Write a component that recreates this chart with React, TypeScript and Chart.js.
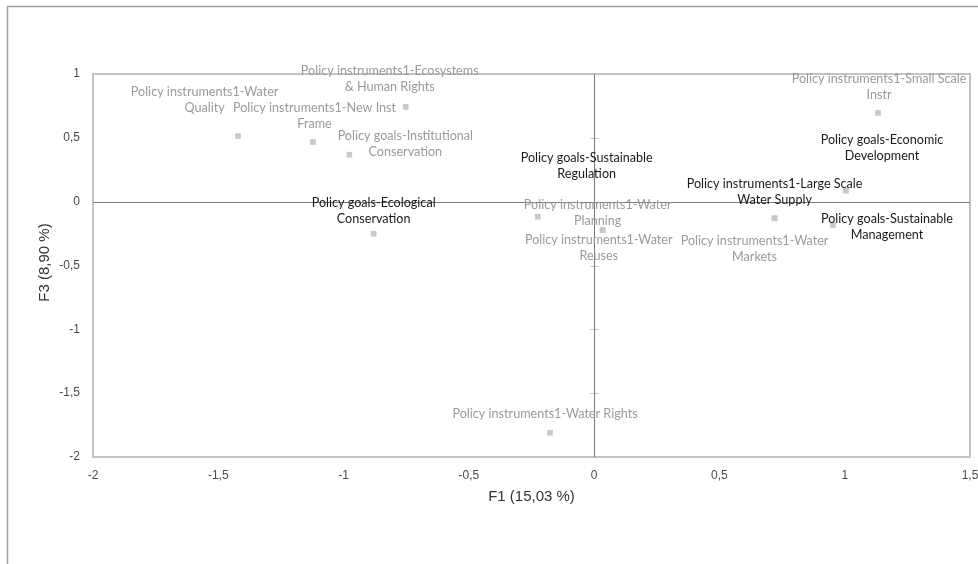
import React, { useEffect, useRef } from "react";
import { Chart, registerables } from "chart.js";
Chart.register(...registerables);

// ---- data ----
const itemLabels: string[][] = [
  ["Policy instruments1-Water", "Quality"],
  ["Policy instruments1-New Inst", "Frame"],
  ["Policy instruments1-Ecosystems", "& Human Rights"],
  ["Policy goals-Institutional", "Conservation"],
  ["Policy goals-Ecological", "Conservation"],
  ["Policy goals-Sustainable", "Regulation"],
  ["Policy instruments1-Water", "Planning"],
  ["Policy instruments1-Water", "Reuses"],
  ["Policy instruments1-Large Scale", "Water Supply"],
  ["Policy instruments1-Water", "Markets"],
  ["Policy instruments1-Small Scale", "Instr"],
  ["Policy goals-Economic", "Development"],
  ["Policy goals-Sustainable", "Management"],
  ["Policy instruments1-Water Rights"],
];
const f1Values = [-1.421, -1.122, -0.752, -0.977, -0.88, 0.034, 0.034, -0.225, 0.72, 0.72, 1.133, 1.005, 0.953, -0.176];
const f3Values = [0.514, 0.467, 0.742, 0.368, -0.251, -0.223, -0.223, -0.118, -0.13, -0.13, 0.695, 0.086, -0.183, -1.81];
const xTickValues = [-2, -1.5, -1, -0.5, 0, 0.5, 1, 1.5];
const yTickValues = [1, 0.5, 0, -0.5, -1, -1.5, -2];
const xTitle = "F1 (15,03 %)";
const yTitle = "F3 (8,90 %)";

// ---- styles ----
const GREY_TEXT = "#9a9a9a";
const BLACK_TEXT = "#1a1a1a";
const labelColors = [GREY_TEXT, GREY_TEXT, GREY_TEXT, GREY_TEXT, BLACK_TEXT, BLACK_TEXT, GREY_TEXT, GREY_TEXT, BLACK_TEXT, GREY_TEXT, GREY_TEXT, BLACK_TEXT, BLACK_TEXT, GREY_TEXT];
// [dx to label centre, dy to first-line centre] in pixels
const labelOffsets: [number, number][] = [
  [-33.5, -44], [1.5, -34], [-16, -36], [56, -19], [0, -31], [-16, -72], [-5, -25],
  [61, 23], [0, -34], [-20, 23], [1, -34], [36, -51], [54, -6], [-5, -19],
];
const LABEL_FONT = "12.6px Lato";
const LINE_H = 16;

const fmt = (v: number) => String(v).replace(".", ",");

const decorPlugin = {
  id: "decor",
  beforeDraw(chart: any) {
    const ctx = chart.ctx;
    ctx.save();
    ctx.fillStyle = "#ffffff";
    ctx.fillRect(0, 0, chart.width, chart.height);
    ctx.strokeStyle = "#a0a0a0";
    ctx.lineWidth = 1.5;
    ctx.strokeRect(7.5, 6.5, chart.width + 20, chart.height + 20);
    ctx.restore();
  },
  beforeDatasetsDraw(chart: any) {
    const ctx = chart.ctx;
    const a = chart.chartArea;
    const xs = chart.scales.x;
    const ys = chart.scales.y;
    ctx.save();
    ctx.strokeStyle = "#c4c4c4";
    ctx.lineWidth = 2;
    ctx.strokeRect(a.left, a.top, a.right - a.left, a.bottom - a.top);
    const x0 = Math.round(xs.getPixelForValue(0)) + 0.5;
    const y0 = Math.round(ys.getPixelForValue(0)) + 0.5;
    // tick marks on vertical axis
    ctx.strokeStyle = "#c0c0c0";
    ctx.lineWidth = 1;
    for (const v of yTickValues) {
      const py = Math.round(ys.getPixelForValue(v)) + 0.5;
      ctx.beginPath();
      ctx.moveTo(x0 - 4, py);
      ctx.lineTo(x0 + 4, py);
      ctx.stroke();
    }
    ctx.strokeStyle = "#7a7a7a";
    ctx.lineWidth = 1;
    ctx.beginPath();
    ctx.moveTo(x0, a.top);
    ctx.lineTo(x0, a.bottom);
    ctx.moveTo(a.left, y0);
    ctx.lineTo(a.right, y0);
    ctx.stroke();
    ctx.restore();
  },
  afterDatasetsDraw(chart: any) {
    const ctx = chart.ctx;
    const meta = chart.getDatasetMeta(0);
    const a = chart.chartArea;
    ctx.save();
    ctx.font = LABEL_FONT;
    ctx.textAlign = "center";
    ctx.textBaseline = "middle";
    meta.data.forEach((el: any, i: number) => {
      const [dx, dy] = labelOffsets[i];
      ctx.fillStyle = labelColors[i];
      itemLabels[i].forEach((line, j) => {
        ctx.fillText(line, el.x + dx, el.y + dy + j * LINE_H);
      });
    });
    // axis titles
    ctx.fillStyle = "#333333";
    ctx.font = "15px 'Liberation Sans'";
    ctx.fillText(xTitle, (a.left + a.right) / 2, 497);
    ctx.save();
    ctx.translate(45, (a.top + a.bottom) / 2 - 3);
    ctx.rotate(-Math.PI / 2);
    ctx.fillText(yTitle, 0, 0);
    ctx.restore();
    ctx.restore();
  },
};

export default function App() {
  const ref = useRef<HTMLCanvasElement | null>(null);
  useEffect(() => {
    if (!ref.current) return;
    const points = f1Values.map((x, i) => ({ x, y: f3Values[i] }));
    const chart = new Chart(ref.current, {
      type: "scatter",
      data: {
        datasets: [
          {
            data: points,
            pointStyle: "rect",
            pointRadius: 4,
            pointBorderWidth: 0,
            backgroundColor: "#c8c8c8",
            borderColor: "#c8c8c8",
          },
        ],
      },
      options: {
        responsive: false,
        animation: false,
        devicePixelRatio: 1,
        layout: { padding: { left: 0, right: 8, top: 74, bottom: 0 } },
        plugins: { legend: { display: false }, tooltip: { enabled: false } },
        scales: {
          x: {
            type: "linear",
            min: -2,
            max: 1.5,
            afterBuildTicks: (s: any) => { s.ticks = xTickValues.map((value) => ({ value })); },
            afterFit: (s: any) => { s.height = 107; s.paddingLeft = 0; s.paddingRight = 0; },
            ticks: {
              padding: 11,
              color: "#4a4a4a",
              font: { family: "'Liberation Sans'", size: 12 },
              callback: (v: any) => fmt(Number(v)),
              maxRotation: 0,
            },
            grid: { display: false, drawTicks: false },
            border: { display: false },
          },
          y: {
            type: "linear",
            min: -2,
            max: 1,
            afterBuildTicks: (s: any) => { s.ticks = yTickValues.map((value) => ({ value })); },
            afterFit: (s: any) => { s.width = 93; s.paddingTop = 0; s.paddingBottom = 0; },
            ticks: {
              padding: 13,
              color: "#4a4a4a",
              font: { family: "'Liberation Sans'", size: 12 },
              callback: (v: any) => fmt(Number(v)),
            },
            grid: { display: false, drawTicks: false },
            border: { display: false },
          },
        },
      },
      plugins: [decorPlugin],
    });
    return () => chart.destroy();
  }, []);
  return (
    <canvas
      ref={ref}
      width={978}
      height={564}
      style={{ position: "absolute", left: 0, top: 0, width: 978, height: 564, display: "block" }}
    />
  );
}
